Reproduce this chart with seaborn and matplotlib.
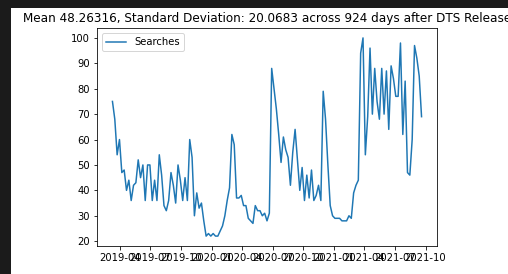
import numpy as np
import pandas as pd
import seaborn as sns
import matplotlib.pyplot as plt
import matplotlib.dates as mdates
from matplotlib.patches import Rectangle

# weekly search interest, 133 weeks (924 days)
start_date = "2019-03-10"
searches = [
    75, 68, 54, 60, 47, 48, 40, 44, 36, 42,
    43, 52, 45, 50, 36, 50, 50, 36, 44, 36,
    54, 46, 34, 32, 36, 47, 42, 35, 50, 44,
    36, 45, 36, 60, 53, 30, 39, 33, 35, 28,
    22, 23, 22, 23, 22, 22, 24, 26, 30, 36,
    41, 62, 58, 37, 37, 38, 34, 34, 29, 28,
    27, 34, 32, 32, 30, 31, 28, 31, 88, 80,
    72, 62, 51, 61, 56, 53, 42, 55, 64, 52,
    40, 49, 36, 46, 37, 48, 36, 38, 42, 36,
    79, 68, 50, 34, 30, 29, 29, 29, 28, 28,
    28, 30, 29, 39, 42, 44, 94, 100, 54, 69,
    96, 70, 88, 75, 68, 88, 70, 87, 64, 89,
    84, 77, 77, 98, 62, 83, 47, 46, 60, 97,
    92, 85, 69,
]
title = "Mean 48.26316, Standard Deviation: 20.0683 across 924 days after DTS Release"
y_ticks = list(range(20, 101, 10))

dates = pd.date_range(start_date, periods=len(searches), freq="7D")
df = pd.DataFrame({"date": dates, "Searches": searches})

W, H = 508, 274
fig = plt.figure(figsize=(W / 72, H / 72), dpi=72, facecolor="#1b1b1b")
# white figure area on the dark notebook background
fig.patches.append(Rectangle((11 / W, 0), 1, 1 - 8 / H, transform=fig.transFigure,
                             facecolor="white", edgecolor="none", zorder=-1))
ax = fig.add_axes([97 / W, 1 - 246 / H, 340 / W, 218 / H])

sns.lineplot(data=df, x="date", y="Searches", ax=ax, label="Searches", color="#1f77b4", linewidth=1.5)

ax.set_yticks(y_ticks)
ax.xaxis.set_major_locator(mdates.MonthLocator(bymonth=[1, 4, 7, 10]))
ax.xaxis.set_major_formatter(mdates.DateFormatter("%Y-%m"))
ax.set_xlabel("")
ax.set_ylabel("")
ax.set_title(title, fontsize=12)
ax.legend(loc="upper left")

fig.savefig("out.png", dpi=72, facecolor=fig.get_facecolor())
